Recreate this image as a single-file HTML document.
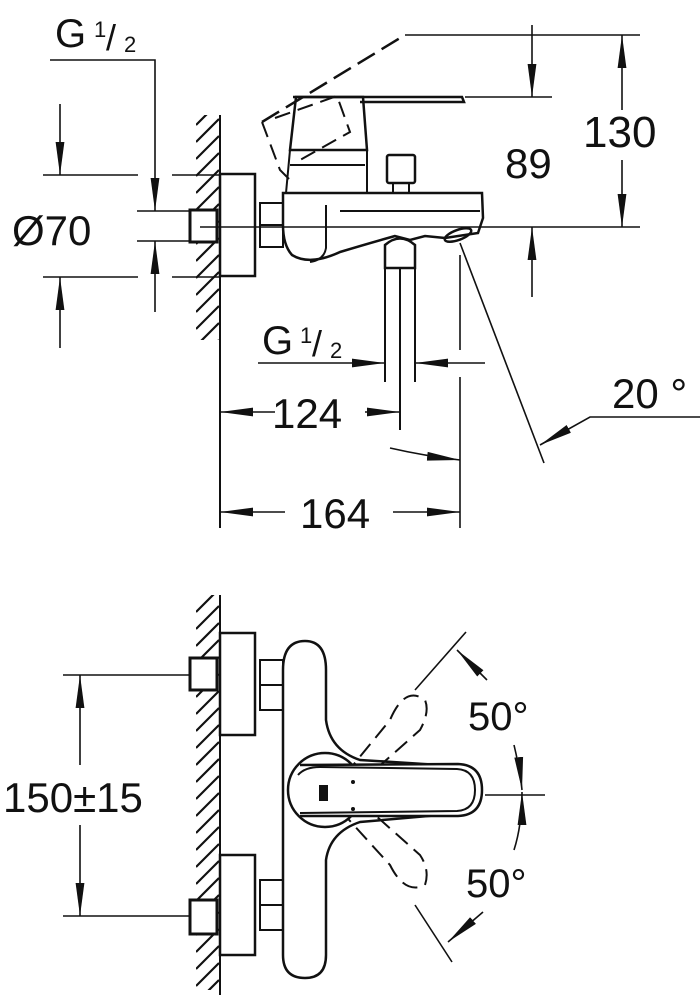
<!DOCTYPE html>
<html><head><style>
html,body{margin:0;padding:0;background:#fff;}
svg{display:block;}
text{font-family:"Liberation Sans",Arial,sans-serif;fill:#111;}
</style></head><body>
<svg width="700" height="1000" viewBox="0 0 700 1000" xmlns="http://www.w3.org/2000/svg">
<defs>
<marker id="b" viewBox="0 0 30 10" refX="30" refY="5" markerWidth="33" markerHeight="11" markerUnits="userSpaceOnUse" orient="auto-start-reverse"><path d="M0,1 L30,5 L0,9 z" fill="#111"/></marker>
<clipPath id="c1"><rect x="196" y="115" width="23" height="225"/></clipPath>
<clipPath id="c2"><rect x="196" y="595" width="23" height="395"/></clipPath>
</defs>
<g fill="none" stroke="#111" stroke-width="2">
<!-- TOP VIEW -->
<g clip-path="url(#c1)" stroke-width="2.2">
<path d="M196,125 L219,102 M196,142 L219,119 M196,159 L219,136 M196,176 L219,153 M196,193 L219,170 M196,210 L219,187 M196,227 L219,204 M196,244 L219,221 M196,261 L219,238 M196,278 L219,255 M196,295 L219,272 M196,312 L219,289 M196,329 L219,306 M196,346 L219,323 M196,363 L219,340"/>
</g>
<line x1="220" y1="115" x2="220" y2="528"/>
<rect x="220" y="174" width="35" height="102" stroke-width="2.5" fill="#fff"/>
<rect x="190" y="210" width="27" height="32" stroke-width="3" fill="#fff"/>
<rect x="260" y="203" width="23" height="44"/>
<line x1="260" y1="225" x2="283" y2="225"/>
<path d="M283,193 L482,193 L483,218 L478,233 L445,238 L425,236 L410,240 L395,236 Q370,243 340,252 Q310,266 292,255 Q283,245 283,225 Z" stroke-width="2.5"/>
<path d="M326,205 L326,248 Q324,260 310,262"/>
<line x1="340" y1="211" x2="480" y2="211"/>
<path d="M296,97 L363,97 L367,150 L290,150 Z" stroke-width="2.5"/>
<path d="M290,150 L286,193 M367,150 L367,193 M290,165 L365,165"/>
<path d="M293,97 L462,97 L464,102 L360,102" stroke-width="2.5"/>
<rect x="387" y="155" width="28" height="28" rx="2" stroke-width="2.5"/>
<rect x="393" y="183" width="16" height="10"/>
<ellipse cx="458" cy="235" rx="14" ry="5" transform="rotate(-20 458 235)" stroke-width="2.5"/>
<path d="M385,245 Q400,232 415,245 L415,268 L385,268 Z" stroke-width="2.5"/>
<line x1="385" y1="268" x2="385" y2="382"/><line x1="415" y1="268" x2="415" y2="382"/>
<line x1="400" y1="268" x2="400" y2="430"/>
<path d="M262,122 L405,35" stroke-dasharray="20,8" stroke-width="2.5"/>
<path d="M262,122 L280,170 L290,180 M275,118 L337,96 L350,132 L300,160" stroke-dasharray="16,8"/>
<!-- dims top -->
<line x1="405" y1="35" x2="640" y2="35" stroke-width="1.6"/>
<line x1="465" y1="97" x2="552" y2="97" stroke-width="1.6"/>
<line x1="200" y1="227" x2="640" y2="227" stroke-width="1.6"/>
<line x1="622" y1="110" x2="622" y2="35" marker-end="url(#b)" stroke-width="1.6"/>
<line x1="622" y1="160" x2="622" y2="227" marker-end="url(#b)" stroke-width="1.6"/>
<line x1="532" y1="25" x2="532" y2="97" marker-end="url(#b)" stroke-width="1.6"/>
<line x1="532" y1="297" x2="532" y2="227" marker-end="url(#b)" stroke-width="1.6"/>
<line x1="43" y1="175" x2="138" y2="175" stroke-width="1.6"/><line x1="172" y1="175" x2="220" y2="175" stroke-width="1.6"/>
<line x1="43" y1="277" x2="138" y2="277" stroke-width="1.6"/><line x1="172" y1="277" x2="220" y2="277" stroke-width="1.6"/>
<line x1="137" y1="211" x2="190" y2="211" stroke-width="1.6"/><line x1="137" y1="241" x2="190" y2="241" stroke-width="1.6"/>
<line x1="60" y1="104" x2="60" y2="175" marker-end="url(#b)" stroke-width="1.6"/>
<line x1="60" y1="348" x2="60" y2="277" marker-end="url(#b)" stroke-width="1.6"/>
<polyline points="50,60 155,60 155,211" marker-end="url(#b)" stroke-width="1.6"/>
<line x1="155" y1="312" x2="155" y2="241" marker-end="url(#b)" stroke-width="1.6"/>
<line x1="258" y1="363" x2="385" y2="363" marker-end="url(#b)" stroke-width="1.6"/>
<line x1="485" y1="363" x2="415" y2="363" marker-end="url(#b)" stroke-width="1.6"/>
<line x1="460" y1="255" x2="460" y2="350" stroke-width="1.6"/>
<line x1="460" y1="377" x2="460" y2="528" stroke-width="1.6"/>
<line x1="275" y1="412" x2="220" y2="412" marker-end="url(#b)" stroke-width="1.6"/>
<line x1="365" y1="412" x2="400" y2="412" marker-end="url(#b)" stroke-width="1.6"/>
<line x1="285" y1="512" x2="220" y2="512" marker-end="url(#b)" stroke-width="1.6"/>
<line x1="393" y1="512" x2="460" y2="512" marker-end="url(#b)" stroke-width="1.6"/>
<path d="M390,448 Q425,456 460,460" marker-end="url(#b)" stroke-width="1.6"/>
<line x1="460" y1="243" x2="544" y2="463" stroke-width="1.6"/>
<polyline points="700,417 590,417 540,445" marker-end="url(#b)" stroke-width="1.6"/>

<!-- BOTTOM VIEW -->
<g clip-path="url(#c2)" stroke-width="2.2">
<path d="M196,612 L219,589 M196,629 L219,606 M196,646 L219,623 M196,663 L219,640 M196,680 L219,657 M196,697 L219,674 M196,714 L219,691 M196,731 L219,708 M196,748 L219,725 M196,765 L219,742 M196,782 L219,759 M196,799 L219,776 M196,816 L219,793 M196,833 L219,810 M196,850 L219,827 M196,867 L219,844 M196,884 L219,861 M196,901 L219,878 M196,918 L219,895 M196,935 L219,912 M196,952 L219,929 M196,969 L219,946 M196,986 L219,963 M196,1003 L219,980"/>
</g>
<line x1="220" y1="595" x2="220" y2="995"/>
<rect x="220" y="633" width="35" height="102" stroke-width="2.5" fill="#fff"/>
<rect x="220" y="855" width="35" height="100" stroke-width="2.5" fill="#fff"/>
<rect x="190" y="658" width="27" height="32" stroke-width="3" fill="#fff"/>
<rect x="190" y="900" width="27" height="34" stroke-width="3" fill="#fff"/>
<rect x="260" y="660" width="23" height="50"/><line x1="260" y1="685" x2="283" y2="685"/>
<rect x="260" y="880" width="23" height="50"/><line x1="260" y1="905" x2="283" y2="905"/>
<path d="M283,670 Q283,641 305,641 Q326,641 326,670 L326,720 Q330,750 360,760 L440,765 L440,815 L360,822 Q330,832 326,860 L326,955 Q326,978 305,978 Q283,978 283,955 Z" stroke-width="2.5"/>
<path d="M345,775 L390,720 Q405,685 425,700 Q430,712 420,730 L375,770" stroke-dasharray="16,8"/>
<path d="M340,810 L390,865 Q405,895 425,885 Q430,870 420,855 L375,815" stroke-dasharray="16,8"/>
<circle cx="325" cy="790" r="37" stroke-width="2.5" fill="#fff"/>
<path d="M300,765 L458,764 Q482,765 482,790 Q482,815 458,816 L300,816" stroke-width="2.5" fill="#fff"/>
<path d="M298,775 Q305,767 320,767 L457,769 Q475,770 475,790 Q475,810 457,811 L300,813" stroke-width="2"/>
<rect x="319" y="785" width="9" height="16" fill="#111" stroke="none"/>
<circle cx="353" cy="782" r="2" fill="#111" stroke="none"/><circle cx="353" cy="809" r="2" fill="#111" stroke="none"/>
<line x1="415" y1="690" x2="466" y2="632" stroke-width="1.6"/>
<line x1="415" y1="905" x2="452" y2="962" stroke-width="1.6"/>
<path d="M487,680 L457,650" marker-end="url(#b)" stroke-width="1.6"/>
<path d="M483,912 L448,942" marker-end="url(#b)" stroke-width="1.6"/>
<path d="M514,745 Q520,770 522,790" marker-end="url(#b)" stroke-width="1.6"/>
<path d="M514,850 Q522,825 522,792" marker-end="url(#b)" stroke-width="1.6"/>
<line x1="485" y1="795" x2="545" y2="795" stroke-width="1.6"/>
<line x1="63" y1="675" x2="190" y2="675" stroke-width="1.6"/>
<line x1="63" y1="916" x2="190" y2="916" stroke-width="1.6"/>
<line x1="80" y1="765" x2="80" y2="675" marker-end="url(#b)" stroke-width="1.6"/>
<line x1="80" y1="825" x2="80" y2="916" marker-end="url(#b)" stroke-width="1.6"/>
</g>
<g stroke="none">
<text x="55" y="47" font-size="40">G</text><text x="94" y="37" font-size="22">1</text><text x="106" y="50" font-size="36">/</text><text x="124" y="52" font-size="22">2</text>
<text x="12" y="245" font-size="42">Ø70</text>
<text x="583" y="147" font-size="44">130</text>
<text x="505" y="178" font-size="42">89</text>
<text x="262" y="354" font-size="40">G</text><text x="300" y="343" font-size="22">1</text><text x="312" y="356" font-size="36">/</text><text x="330" y="358" font-size="22">2</text>
<text x="272" y="428" font-size="42">124</text>
<text x="300" y="528" font-size="42">164</text>
<text x="612" y="408" font-size="42">20 °</text>
<text x="3" y="812" font-size="42">150±15</text>
<text x="468" y="730" font-size="40">50°</text>
<text x="466" y="897" font-size="40">50°</text>
</g>
</svg>
</body></html>
